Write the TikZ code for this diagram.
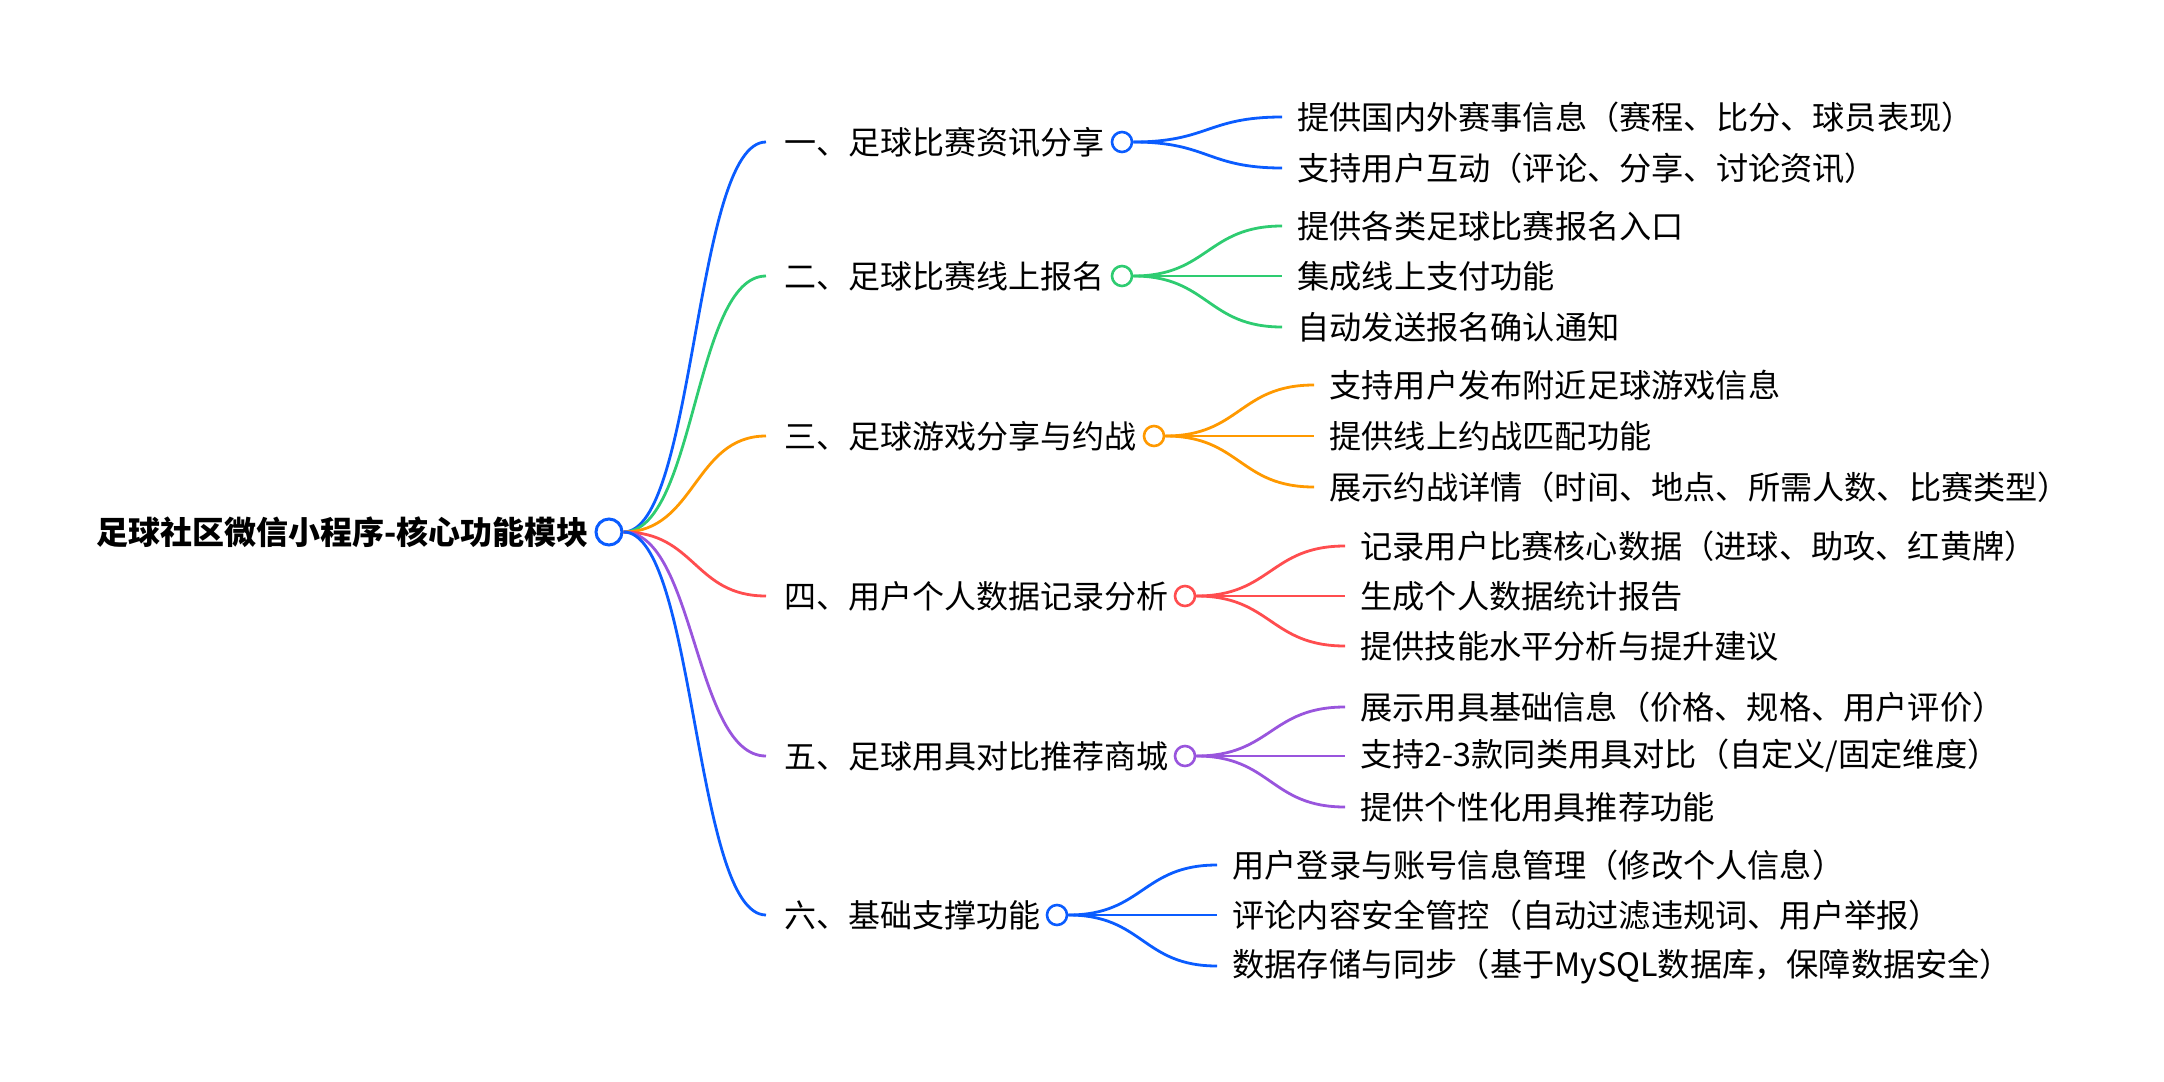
\documentclass[tikz,border=0pt]{standalone}
\usepackage{fontspec}
\setmainfont{Noto Sans CJK SC}
\usetikzlibrary{positioning}
\definecolor{mmblue}{RGB}{10,92,255}
\definecolor{mmgreen}{RGB}{46,204,113}
\definecolor{mmorange}{RGB}{255,153,0}
\definecolor{mmred}{RGB}{255,77,79}
\definecolor{mmpurple}{RGB}{153,85,221}
\tikzset{
  rootlabel/.style={font=\fontsize{16}{18}\selectfont\bfseries,inner sep=0pt,anchor=east},
  toplabel/.style={font=\fontsize{16}{19}\selectfont,inner sep=0pt,anchor=west},
  leaflabel/.style={font=\fontsize{16.1}{19}\selectfont,inner sep=0pt,anchor=west},
  knob/.style={circle,draw=#1,fill=white,line width=1.3pt,minimum size=10pt,inner sep=0pt},
  link/.style={draw=#1,line width=1.4pt},
}

\begin{document}
\begin{tikzpicture}[x=0.5pt,y=-0.5pt]
\useasboundingbox (0,0) rectangle (2164,1082);
% root
\node[rootlabel] (root) at (589,532) {足球社区微信小程序-核心功能模块};
\node[knob=mmblue,line width=1.5pt,minimum size=13pt] (hub) at (609,532) {};
% first level: labels and knobs
\node[toplabel] (m1) at (784,142) {一、足球比赛资讯分享};
\node[toplabel] (m2) at (784,276) {二、足球比赛线上报名};
\node[toplabel] (m3) at (784,436) {三、足球游戏分享与约战};
\node[toplabel] (m4) at (784,596) {四、用户个人数据记录分析};
\node[toplabel] (m5) at (784,756) {五、足球用具对比推荐商城};
\node[toplabel] (m6) at (784,915) {六、基础支撑功能};
\node[knob=mmblue] (k1) at (1122,142) {};
\node[knob=mmgreen] (k2) at (1122,276) {};
\node[knob=mmorange] (k3) at (1154,436) {};
\node[knob=mmred] (k4) at (1185,596) {};
\node[knob=mmpurple] (k5) at (1185,756) {};
\node[knob=mmblue] (k6) at (1057,915) {};
% root -> first level
\draw[link=mmblue] (hub.east) .. controls +(72,0) and +(-72,0) .. ([xshift=-9pt]m1.west);
\draw[link=mmgreen] (hub.east) .. controls +(72,0) and +(-72,0) .. ([xshift=-9pt]m2.west);
\draw[link=mmorange] (hub.east) .. controls +(72,0) and +(-72,0) .. ([xshift=-9pt]m3.west);
\draw[link=mmred] (hub.east) .. controls +(72,0) and +(-72,0) .. ([xshift=-9pt]m4.west);
\draw[link=mmpurple] (hub.east) .. controls +(72,0) and +(-72,0) .. ([xshift=-9pt]m5.west);
\draw[link=mmblue] (hub.east) .. controls +(72,0) and +(-72,0) .. ([xshift=-9pt]m6.west);
% leaves
\node[leaflabel] (l11) at (1297,117) {提供国内外赛事信息（赛程、比分、球员表现）};
\node[leaflabel] (l12) at (1297,168) {支持用户互动（评论、分享、讨论资讯）};
\node[leaflabel] (l21) at (1297,226) {提供各类足球比赛报名入口};
\node[leaflabel] (l22) at (1297,276) {集成线上支付功能};
\node[leaflabel] (l23) at (1297,327) {自动发送报名确认通知};
\node[leaflabel] (l31) at (1329,385) {支持用户发布附近足球游戏信息};
\node[leaflabel] (l32) at (1329,436) {提供线上约战匹配功能};
\node[leaflabel] (l33) at (1329,487) {展示约战详情（时间、地点、所需人数、比赛类型）};
\node[leaflabel] (l41) at (1360,546) {记录用户比赛核心数据（进球、助攻、红黄牌）};
\node[leaflabel] (l42) at (1360,596) {生成个人数据统计报告};
\node[leaflabel] (l43) at (1360,646) {提供技能水平分析与提升建议};
\node[leaflabel] (l51) at (1360,707) {展示用具基础信息（价格、规格、用户评价）};
\node[leaflabel] (l52) at (1360,756) {支持2-3款同类用具对比（自定义/固定维度）};
\node[leaflabel] (l53) at (1360,807) {提供个性化用具推荐功能};
\node[leaflabel] (l61) at (1232,865) {用户登录与账号信息管理（修改个人信息）};
\node[leaflabel] (l62) at (1232,915) {评论内容安全管控（自动过滤违规词、用户举报）};
\node[leaflabel] (l63) at (1232,966) {数据存储与同步（基于MySQL数据库，保障数据安全）};
% first level -> leaves
\foreach \k/\l/\c in {k1/l11/mmblue,k1/l12/mmblue,
    k2/l21/mmgreen,k2/l22/mmgreen,k2/l23/mmgreen,
    k3/l31/mmorange,k3/l32/mmorange,k3/l33/mmorange,
    k4/l41/mmred,k4/l42/mmred,k4/l43/mmred,
    k5/l51/mmpurple,k5/l52/mmpurple,k5/l53/mmpurple,
    k6/l61/mmblue,k6/l62/mmblue,k6/l63/mmblue}
  \draw[link=\c] (\k.east) .. controls +(75,0) and +(-75,0) .. ([xshift=-7.5pt]\l.west);
\end{tikzpicture}
\end{document}
